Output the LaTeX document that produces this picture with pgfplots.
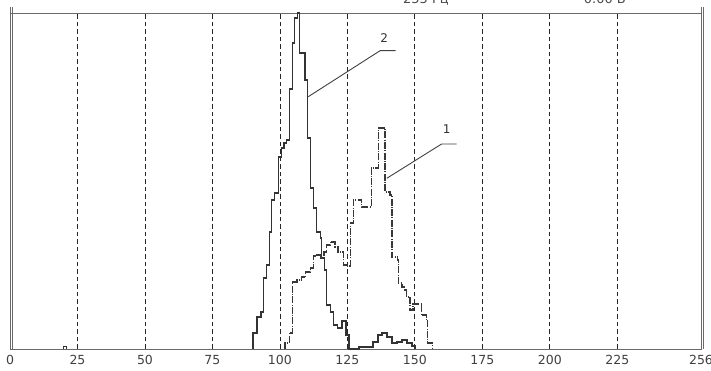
\documentclass[border=0pt]{standalone}
\usepackage{pgfplots}
\pgfplotsset{compat=1.18}
\usepackage{fontspec}
\setmainfont{DejaVu Sans}
\usetikzlibrary{calc}
\definecolor{ink}{HTML}{333333}
\definecolor{frame}{HTML}{6A6A6A}
\begin{document}
\begin{tikzpicture}
\begin{axis}[name=ax, width=691pt, height=336pt, scale only axis,
  xmin=0, xmax=256, ymin=0, ymax=336,
  axis line style={draw=frame, line width=0.9pt},
  xtick={25,50,...,225}, extra x ticks={0,256}, extra x tick style={grid=none},
  ytick=\empty,
  major tick length=0pt,
  xmajorgrids, grid style={black!85, dash pattern=on 4.5pt off 3pt, line width=0.8pt},
  tick label style={font=\fontsize{12.5}{13}\selectfont, text=black!75},
  /pgf/number format/assume math mode=true,
  xticklabel style={yshift=-3pt},
  clip=false,
]
\addplot[const plot, color=ink, line width=1.2pt] coordinates {
(90,0)(90,16)(91.5,32)(93,37)(94,71)(95,84)(96,117)(97,149)(98,156)(99.5,192)(100.5,201)(101.5,206)(102.5,209)(103.5,260)(104.6,306)(105.5,331)(106.4,336)(107.2,296)(109.3,269)(110.3,211)(111.2,161)(112.4,141)(113.6,117)(114.9,111)(115.5,91)(116.5,79)(117.3,44)(118.6,37)(119.7,24)(121.2,21)(123,28)(124.5,14)(125.6,0)(129.3,2)(134.5,7)(136.3,14)(137.8,16)(139.7,12)(141.5,6)(143.4,7)(145.2,9)(147.1,6)(148.9,3)(150.1,0)
};
\addplot[const plot, color=ink, line width=1pt] coordinates {(20,0)(20,2)(21,0)};
\addplot[const plot, color=black!78, line width=1.15pt, dash pattern=on 7pt off 1.3pt on 1pt off 1.3pt] coordinates {
(101.9,0)(101.9,6)(103.5,16)(104.6,67)(106.3,69)(108,72)(109.6,77)(111.2,81)(112.3,93)(113.7,94)(114.9,91)(116.3,97)(117.4,104)(118.6,107)(120.4,102)(121.5,97)(123.4,84)(124.6,83)(126,126)(127.2,149)(130.3,142)(133.8,181)(136.4,221)(138.9,157)(140.8,154)(141.5,92)(143.4,89)(143.8,66)(145.2,62)(146.3,59)(147,52)(148.2,39)(149.3,45)(152.5,34)(154.4,29)(154.8,6)(156.4,0)
};
\draw[black!75, line width=0.9pt] (axis cs:110.5,252.3) -- (axis cs:137.1,298.3) -- (axis cs:142.9,298.3);
\node[font=\fontsize{12}{12}\selectfont, text=black!80] at (axis cs:138.6,310.7) {2};
\draw[black!75, line width=0.9pt] (axis cs:139.6,170.7) -- (axis cs:159.9,205) -- (axis cs:165.5,205);
\node[font=\fontsize{12}{12}\selectfont, text=black!80] at (axis cs:161.8,219.7) {1};
\draw[frame, line width=0.9pt] (axis cs:0.93,0) -- (axis cs:0.93,342);
\draw[frame, line width=0.9pt] (axis cs:0,336) -- (axis cs:0,342);
\draw[frame, line width=0.9pt] (axis cs:256,336) -- (axis cs:256,342);
\draw[frame, line width=0.9pt] (axis cs:257.0,0) -- (axis cs:257.0,342);
\node[anchor=base, font=\fontsize{13}{13}\selectfont, text=black!70] at (axis cs:154.1,345) {255 Гц};
\node[anchor=base, font=\fontsize{13}{13}\selectfont, text=black!70] at (axis cs:220.4,345) {0.00 В};
\end{axis}
\pgfresetboundingbox
\path[use as bounding box] ($(ax.south west)+(-10pt,-22pt)$) rectangle ($(ax.north east)+(10pt,13pt)$);
\end{tikzpicture}
\end{document}
